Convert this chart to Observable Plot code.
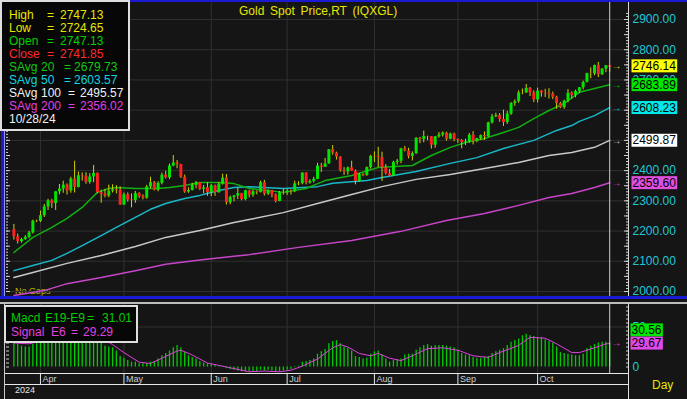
<!DOCTYPE html>
<html>
<head>
<meta charset="utf-8">
<script src="https://cdn.jsdelivr.net/npm/d3@7"></script>
<script src="https://cdn.jsdelivr.net/npm/@observablehq/plot@0.6"></script>
<style>
html,body{margin:0;padding:0;background:#151515;}
#wrap{position:relative;width:687px;height:399px;overflow:hidden;background:#151515;font-family:"Liberation Sans",Arial,sans-serif;}
#wrap svg{position:absolute;left:0;display:block;}
.ov{position:absolute;white-space:pre;}
.ln{position:absolute;}
.lg{position:absolute;background:#070707;border:2px solid #dedede;box-sizing:border-box;}
.lg span{position:absolute;font-size:12px;line-height:13px;white-space:pre;}
</style>
</head>
<body>
<div id="wrap"></div>
<script>
// ---------------- data ----------------
const startDay = "2024-03-21";
const endDay = "2024-10-29"; // exclusive
const monthNames = ["Apr","May","Jun","Jul","Aug","Sep","Oct"];

const open = [2205,2181,2165,2172,2179,2194,2233,
2232,2251,2280,2300,2291, 2330,2339,2352,2333,2372, 2344,2383,2381,2361,2379,
2391,2327,2322,2316,2332, 2337,2335,2286,2320,2303, 2301,2324,2314,2309,2346,
2360,2336,2358,2385,2376, 2415,2425,2420,2378,2329, 2334,2351,2360,2338,2343,
2327,2350,2327,2355,2375, 2294,2311,2316,2324,2304, 2333,2319,2330,2328,2360,
2322,2334,2319,2298,2327, 2326,2332,2330,2356,2357, 2392,2359,2364,2371,2415,
2411,2422,2469,2458,2445, 2400,2396,2409,2398,2364, 2387,2384,2410,2447,2446,
2443,2409,2390,2382,2427, 2431,2472,2465,2447,2456, 2507,2503,2513,2512,2484,
2512,2518,2524,2504,2521, 2503,2500,2493,2495,2517, 2497,2506,2516,2512,2558,
2578,2582,2569,2559,2587, 2622,2628,2657,2657,2672, 2658,2634,2663,2657,2656,
2653,2643,2622,2608,2630, 2656,2649,2662,2674,2692, 2721,2720,2748,2717,2736,
2747.13];
const high = [2222,2190,2176,2185,2199,2236,2236,
2266,2288,2305,2305,2330, 2354,2365,2356,2378,2431, 2395,2392,2393,2390,2417,
2392,2335,2338,2352,2353, 2350,2346,2326,2326,2323, 2331,2327,2320,2351,2378,
2364,2363,2392,2398,2422, 2450,2433,2421,2385,2343, 2358,2364,2360,2351,2360,
2354,2352,2360,2388,2387, 2316,2318,2342,2325,2335, 2334,2335,2333,2365,2368,
2337,2335,2323,2331,2339, 2337,2336,2365,2363,2392, 2393,2370,2378,2424,2424,
2440,2469,2483,2461,2446, 2410,2412,2431,2402,2391, 2390,2412,2451,2462,2477,
2461,2420,2404,2431,2437, 2474,2480,2474,2462,2509, 2510,2531,2514,2512,2513,
2526,2528,2527,2524,2524, 2505,2503,2504,2523,2529, 2507,2518,2528,2560,2586,
2590,2589,2600,2596,2625, 2634,2664,2670,2685,2675, 2664,2673,2665,2669,2671,
2660,2646,2626,2633,2668, 2661,2666,2675,2696,2722, 2740,2749,2758,2737,2748,
2747.13];
const low = [2170,2157,2160,2169,2175,2190,2228,
2228,2245,2268,2275,2268, 2320,2325,2319,2325,2326, 2343,2365,2355,2355,2360,
2323,2292,2310,2310,2326, 2323,2285,2285,2296,2277, 2292,2308,2303,2305,2340,
2333,2330,2353,2372,2370, 2413,2406,2374,2325,2325, 2333,2340,2334,2323,2315,
2314,2315,2325,2352,2286, 2287,2297,2304,2300,2300, 2310,2312,2320,2326,2316,
2318,2310,2293,2297,2319, 2318,2319,2327,2350,2353, 2353,2355,2359,2370,2394,
2410,2421,2451,2435,2395, 2384,2385,2398,2353,2361, 2380,2381,2405,2427,2410,
2364,2385,2380,2381,2418, 2423,2462,2439,2432,2454, 2489,2492,2499,2471,2474,
2507,2511,2498,2502,2496, 2490,2472,2483,2490,2485, 2492,2500,2500,2510,2554,
2575,2560,2546,2553,2583, 2613,2623,2651,2655,2645, 2625,2624,2643,2642,2637,
2635,2603,2605,2603,2624, 2637,2641,2655,2667,2690, 2704,2714,2708,2715,2724,
2724.65];
const close = [2181,2165,2172,2179,2194,2233,2232,
2251,2280,2300,2291,2330, 2339,2352,2333,2372,2344, 2383,2381,2361,2379,2391,
2327,2322,2316,2332,2337, 2335,2286,2320,2303,2301, 2324,2314,2309,2346,2360,
2336,2358,2385,2376,2415, 2425,2420,2378,2329,2334, 2351,2360,2338,2343,2327,
2350,2327,2355,2375,2294, 2311,2316,2324,2304,2333, 2319,2330,2328,2360,2322,
2334,2319,2298,2327,2326, 2332,2330,2356,2357,2392, 2359,2364,2371,2415,2411,
2422,2469,2458,2445,2400, 2396,2409,2398,2364,2387, 2384,2410,2447,2446,2443,
2409,2390,2382,2427,2431, 2472,2465,2447,2456,2507, 2503,2513,2512,2484,2512,
2518,2524,2504,2521,2503, 2500,2493,2495,2517,2497, 2506,2516,2512,2558,2578,
2582,2569,2559,2587,2622, 2628,2657,2657,2672,2658, 2634,2663,2657,2656,2653,
2643,2622,2608,2630,2656, 2649,2662,2674,2692,2721, 2720,2748,2717,2736,2747,
2741.85];

// moving averages read at sample days (index of trading day)
const ma20Idx = [0,5,10,14,18,22,25,27,32,35,38,41,45,49,54,58,62,71,77,82,89,96,105,110,115,119,124,129,133,137,141,145,149,153,157];
const ma20 = [2129,2179,2212,2242,2278,2328,2341,2344,2341,2341,2341,2344,2351,2361,2361,2357,2341,2328,2341,2367,2384,2410,2417,2450,2477,2493,2506,2526,2543,2572,2599,2622,2659,2672,2683.89];
const ma50Idx = [0,5,10,14,18,23,27,32,36,40,45,49,54,58,62,71,80,84,93,97,106,115,122,129,137,143,147,149,153,157];
const ma50 = [2069,2086,2103,2126,2152,2185,2212,2245,2272,2291,2308,2318,2334,2344,2347,2341,2347,2358,2367,2377,2397,2424,2443,2473,2500,2533,2549,2563,2582,2608.23];
const ma100Idx = [0,5,14,23,32,40,49,58,62,71,80,89,97,106,115,124,133,141,147,153,157];
const ma100 = [2046,2063,2093,2119,2149,2179,2202,2228,2238,2261,2291,2321,2347,2371,2387,2407,2427,2450,2460,2477,2499.87];
const ma200Idx = [0,8,14,23,32,40,49,58,62,75,89,102,114,124,133,141,147,153,157];
const ma200 = [1987,2003,2026,2046,2069,2090,2104,2117,2122,2146,2169,2199,2235,2258,2285,2311,2324,2344,2359.60];

// MACD histogram (one per day) and signal line at sample days
const macd = [30,28,26,25,25,28,30,
33,36,39,40,43, 45,47,45,47,44, 45,44,43,43,43,
36,30,26,25,24, 20,13,11,8,6, 6,4,4,4,6,
7,10,14,17,20, 24,27,24,18,14, 12,10,7,5,4,
3,2,1,1,-2, -3,-4,-5,-6,-6, -6,-6,-6,-4,-5,
-4,-5,-7,-6,-5, -4,-3,-1,1,6, 7,8,10,16,19,
22,29,32,33,29, 25,23,20,13,12, 10,11,16,19,20,
15,10,6,8,9, 10,15,16,16,21, 24,27,28,26,27,
27,27,26,25,24, 21,17,15,14,12, 11,11,12,13,17,
19,21,23,27,31, 33,35,39,41,39, 38,37,37,34,32,
30,25,18,17,16, 15,14,14,16,23, 26,28,30,31,31,
31.01];
const sigIdx = [0,4,8,12,16,21,22,23,24,25,26,29,33,36,39,43,44,47,51,56,60,62,66,70,73,76,80,84,86,88,91,94,96,99,102,105,109,113,117,121,125,128,133,136,140,143,147,149,153,156,157];
const sigVal = [30,29,33,40,44,44,42,39,35,31,28,18,6,4.4,11,20,21,15,5,0,-4,-6,-5,-6,-4,1,10,24,28,25,17,14,17,11,8,14,23,24,21,14,12,18,27,37,36,29,18,18,24,29,29.29];

// texts
const titleText = "Gold Spot Price,RT (IQXGL)";
const legendNames = ["High","Low","Open","Close","SAvg","SAvg","SAvg","SAvg"];
const legendPeriods = ["","","","","20","50","100","200"];
const legendValues = [2747.13,2724.65,2747.13,2741.85,2679.73,2603.57,2495.57,2356.02];
const legendColors = ["#e6e600","#e6e600","#00d000","#ff2a2a","#10c810","#10d4e0","#f0f0f0","#e040e0"];
const legendDate = "10/28/24";
const priceTags = [2746.14, 2683.89, 2608.23, 2499.87, 2359.60];
const priceTagColors = ["#ffff00","#00e800","#00e8e8","#ffffff","#e050e0"];
const priceArrowColors = ["#d8d800","#10c010","#18c0d0","#d0d0d0","#d040d0"];
const macdLegendNames = [["Macd","E19-E9"],["Signal","E6"]];
const macdLegendValues = [31.01, 29.29];
const macdLegendColors = ["#00d000","#e040e0"];
const macdTags = [30.56, 29.67];
const macdTagColors = ["#00e801","#e048e8"];
const yearLabel = "2024";
const periodLabel = "Day";
const gapsLabel = "No Gaps";

// ---------------- build ----------------
const FONT = '"Liberation Sans", Arial, sans-serif';
const GRID = "#303030", UP = "#00e600", DOWN = "#ff2020", WICK = "#d2d200";
const CYAN = "#1ec8d8", TICK = "#d0d0d0";

const days = d3.utcDays(new Date(startDay), new Date(endDay)).filter(d => d.getUTCDay() !== 0 && d.getUTCDay() !== 6);
const N = days.length;
const monthStarts = days.map((d, i) => (i > 0 && d.getUTCMonth() !== days[i - 1].getUTCMonth()) ? i : -1).filter(i => i >= 0);
const bars = days.map((d, i) => ({i, o: open[i], h: high[i], l: low[i], c: close[i]}));
const pts = (idx, vals) => idx.map((i, k) => ({i, v: vals[k]}));

const X = {domain: [-1.95, 161.95], range: [6, 628], axis: null};
const base = {width: 687, marginLeft: 6, marginRight: 59,
  style: {background: "transparent", fontFamily: FONT, fontSize: "12px", overflow: "visible", color: "#d0d0d0"}};

const price = Plot.plot({
  ...base, height: 300, marginTop: 2, marginBottom: 2,
  x: X,
  y: {domain: [2000, 2900], range: [291, 19], axis: null},
  marks: [
    Plot.ruleY(d3.range(2000, 2901, 100), {stroke: GRID}),
    Plot.ruleX(monthStarts, {stroke: GRID}),
    Plot.line(pts(ma200Idx, ma200), {x: "i", y: "v", stroke: "#c844c8", strokeWidth: 1.5, clip: true}),
    Plot.line(pts(ma100Idx, ma100), {x: "i", y: "v", stroke: "#c8c8c8", strokeWidth: 1.5, clip: true}),
    Plot.line(pts(ma50Idx, ma50), {x: "i", y: "v", stroke: "#18b8c8", strokeWidth: 1.5, clip: true}),
    Plot.line(pts(ma20Idx, ma20), {x: "i", y: "v", stroke: "#10b010", strokeWidth: 1.5, clip: true}),
    Plot.ruleX(bars, {x: "i", y1: "l", y2: "h", stroke: WICK}),
    Plot.ruleX(bars, {x: "i", y1: "o", y2: "c", stroke: d => d.c >= d.o ? UP : DOWN, strokeWidth: 3}),
    Plot.ruleX([N - 1], {stroke: "#cfcfcf"}),
    Plot.axisY({anchor: "left", ticks: d3.range(2000, 2921, 10), tickSize: 2, dx: 2, tickFormat: () => "", stroke: TICK, label: null}),
    Plot.axisY({anchor: "left", ticks: d3.range(2000, 2901, 50), tickSize: 4, dx: 4, tickFormat: () => "", stroke: TICK, label: null}),
    Plot.axisY({anchor: "right", ticks: d3.range(2000, 2921, 10), tickSize: 3, dx: -3, tickFormat: () => "", stroke: TICK, label: null}),
    Plot.axisY({anchor: "right", ticks: d3.range(2000, 2901, 50), tickSize: 5, dx: -5, tickFormat: () => "", stroke: TICK, label: null}),
    Plot.axisY({anchor: "right", ticks: d3.range(2000, 2901, 100), tickSize: 0, tickPadding: 4, tickFormat: d => d.toFixed(2), fill: CYAN, fontSize: 12, label: null}),
    Plot.text(priceTags, {y: d => d, text: d => d.toFixed(2), fill: (d, k) => priceTagColors[k], frameAnchor: "right", dx: 4, textAnchor: "start", fontSize: 12}),
    Plot.text(priceTags, {y: d => d, text: () => "→", fill: (d, k) => priceArrowColors[k], frameAnchor: "right", dx: -7, fontSize: 10})
  ]
});

const macdRows = days.map((d, i) => ({i, v: macd[i]}));
const macdPlot = Plot.plot({
  ...base, height: 99, marginTop: 3, marginBottom: 26,
  x: X,
  y: {domain: [0, 50], range: [66.5, 26.5], axis: null},
  marks: [
    Plot.ruleY([50], {stroke: GRID}),
    Plot.ruleX(monthStarts, {stroke: GRID}),
    Plot.ruleX(macdRows, {x: "i", y1: 0, y2: "v", stroke: "#00cc00", strokeWidth: 1.3}),
    Plot.line(pts(sigIdx, sigVal), {x: "i", y: "v", stroke: "#e040e0", strokeWidth: 1}),
    Plot.ruleX([N - 1], {stroke: "#cfcfcf"}),
    Plot.axisY({anchor: "left", ticks: d3.range(0, 76, 5), tickSize: 3, dx: 3, tickFormat: () => "", stroke: TICK, label: null}),
    Plot.axisY({anchor: "right", ticks: d3.range(0, 76, 5), tickSize: 3, dx: -3, tickFormat: () => "", stroke: TICK, label: null}),
    Plot.axisY({anchor: "right", ticks: [0, 50], tickSize: 0, tickPadding: 4, tickFormat: d => String(d), fill: CYAN, fontSize: 12, label: null}),
    Plot.axisX({anchor: "bottom", ticks: monthStarts, tickSize: 11, tickFormat: () => "", stroke: "#e8e8e8", label: null}),
    Plot.text(monthStarts, {x: d => d, text: (d, k) => monthNames[k], frameAnchor: "bottom", dy: 8, dx: 2, textAnchor: "start", fill: "#d0d0d0", fontSize: 9}),
    Plot.text(macdTags, {y: d => d, text: d => d.toFixed(2), fill: (d, k) => macdTagColors[k], frameAnchor: "right", dx: 3, textAnchor: "start", fontSize: 12}),
    Plot.text([macdTags[1]], {y: d => d, text: () => "→", fill: "#e040e0", frameAnchor: "right", dx: -7, fontSize: 10})
  ]
});

const wrap = document.getElementById("wrap");
function add(cls, css, text) {
  const d = document.createElement("div");
  d.className = cls; Object.assign(d.style, css);
  if (text != null) d.textContent = text;
  wrap.appendChild(d); return d;
}
// label under the lines
add("ov", {left: "15px", top: "286px", fontSize: "9px", color: "#b8b800"}, gapsLabel);

price.style.top = "0px";
macdPlot.style.top = "300px";
wrap.appendChild(price);
wrap.appendChild(macdPlot);

// boxes behind value tags
const tagSet = new Set([...priceTagColors, ...macdTagColors]);
function boxify(svg, shiftFirst) {
  svg.querySelectorAll("text").forEach(t => {
    const f = t.getAttribute("fill");
    if (!tagSet.has(f)) return;
    if (shiftFirst && f === macdTagColors[0]) {
      const tr = t.getAttribute("transform");
      t.setAttribute("transform", (tr || "") + " translate(0,-12.5)");
    }
    const bb = t.getBBox();
    const r = document.createElementNS("http://www.w3.org/2000/svg", "rect");
    r.setAttribute("x", bb.x - 1); r.setAttribute("y", bb.y + 0.5);
    r.setAttribute("width", bb.width + 2); r.setAttribute("height", bb.height - 1);
    r.setAttribute("fill", f);
    if (t.getAttribute("transform")) r.setAttribute("transform", t.getAttribute("transform"));
    t.parentNode.insertBefore(r, t);
    t.setAttribute("fill", "#000");
  });
}
boxify(price, false);
boxify(macdPlot, true);

// frame lines
const BLUE = "#1a1ad2";
add("ln", {left: "0px", top: "0px", width: "687px", height: "2px", background: BLUE});
add("ln", {left: "1px", top: "0px", width: "3px", height: "299px", background: BLUE});
add("ln", {left: "4px", top: "2px", width: "1px", height: "294px", background: "#9a9ae8"});
add("ln", {left: "0px", top: "296px", width: "687px", height: "3px", background: BLUE});
add("ln", {left: "628px", top: "2px", width: "1px", height: "294px", background: "#d8d8d8"});
add("ln", {left: "0px", top: "302px", width: "687px", height: "2px", background: "#bdbdbd"});
add("ln", {left: "4px", top: "303px", width: "1px", height: "96px", background: "#c8c8c8"});
add("ln", {left: "628px", top: "303px", width: "1px", height: "96px", background: "#e0e0e0"});
add("ln", {left: "5px", top: "373px", width: "623px", height: "1px", background: "#e8e8e8"});
add("ln", {left: "5px", top: "384px", width: "623px", height: "1px", background: "#e8e8e8"});

// title and small labels
add("ov", {left: "239px", top: "4px", fontSize: "12px", lineHeight: "14px", color: "#e6e600", wordSpacing: "2.4px"}, titleText);
add("ov", {left: "15px", top: "385px", fontSize: "9px", lineHeight: "10px", color: "#e6e6e6"}, yearLabel);
add("ov", {left: "652px", top: "378px", fontSize: "12px", lineHeight: "14px", color: "#e6e600"}, periodLabel);

// price legend box
const lg = add("lg", {left: "0px", top: "0px", width: "130px", height: "131px"});
function span(parent, x, cy, txt, color, ox, oy) {
  const s = document.createElement("span");
  s.textContent = txt; s.style.left = (x - ox) + "px"; s.style.top = (cy - 6.5 - oy) + "px"; s.style.color = color;
  parent.appendChild(s);
}
legendNames.forEach((nm, k) => {
  const cy = 15.5 + 13 * k, col = legendColors[k];
  span(lg, 9, cy, nm, col, 2, 2);
  if (k < 4) {
    span(lg, 47, cy, "=", col, 2, 2);
    span(lg, 60, cy, legendValues[k].toFixed(2), col, 2, 2);
  } else {
    const wide = legendPeriods[k].length > 2;
    span(lg, 41, cy, legendPeriods[k], col, 2, 2);
    span(lg, wide ? 68 : 64, cy, "=", col, 2, 2);
    span(lg, wide ? 80 : 74, cy, legendValues[k].toFixed(2), col, 2, 2);
  }
});
span(lg, 9, 15.5 + 13 * 8, legendDate, "#f0f0f0", 2, 2);

// MACD legend box
const ml = add("lg", {left: "4px", top: "305px", width: "134px", height: "38px"});
const macdCols = [[11, 45, 87, 102], [11, 51, 71, 83]];
macdLegendNames.forEach((nm, k) => {
  const cy = 318 + 14 * k, col = macdLegendColors[k], c = macdCols[k];
  span(ml, c[0], cy, nm[0], col, 6, 307);
  span(ml, c[1], cy, nm[1], col, 6, 307);
  span(ml, c[2], cy, "=", col, 6, 307);
  span(ml, c[3], cy, macdLegendValues[k].toFixed(2), col, 6, 307);
});
</script>
</body>
</html>
